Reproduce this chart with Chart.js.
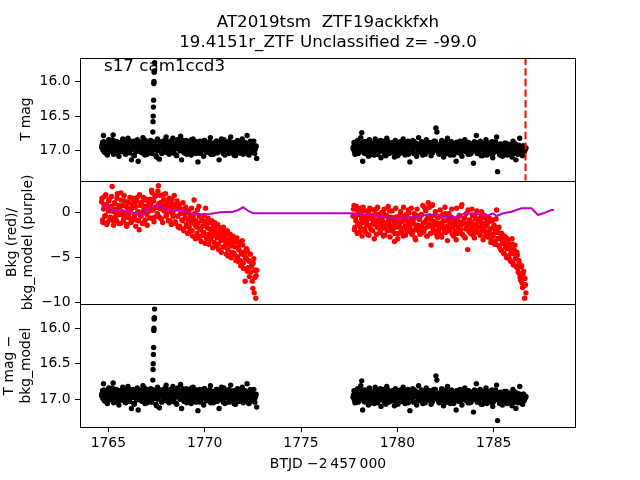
<!DOCTYPE html>
<html>
<head>
<meta charset="utf-8">
<title>AT2019tsm ZTF19ackkfxh</title>
<script src="https://cdn.jsdelivr.net/npm/chart.js"></script>
<style>
  body { margin: 0; background: #fff; }
  #wrap { position: relative; width: 640px; height: 480px; }
  #wrap canvas { position: absolute; left: 0; top: 0; }
</style>
</head>
<body>
<div id="wrap">
  <canvas id="magChart" width="640" height="480"></canvas>
  <canvas id="bkgChart" width="640" height="480"></canvas>
  <canvas id="detChart" width="640" height="480"></canvas>
</div>
<script>
// time stamps (BTJD - 2457000), orbit 1 then orbit 2
const btjd = [
  1764.65,1764.70,1764.75,1764.80,1764.85,1764.90,1764.95,1765.00,1765.05,1765.10,
  1765.15,1765.20,1765.25,1765.30,1765.35,1765.40,1765.45,1765.50,1765.55,1765.60,
  1765.65,1765.70,1765.75,1765.80,1765.85,1765.90,1765.95,1766.00,1766.05,1766.10,
  1766.15,1766.20,1766.25,1766.30,1766.35,1766.40,1766.45,1766.50,1766.55,1766.60,
  1766.65,1766.70,1766.75,1766.80,1766.85,1766.90,1766.95,1767.00,1767.05,1767.10,
  1767.15,1767.20,1767.25,1767.30,1767.35,1767.40,1767.45,1767.50,1767.55,1767.60,
  1767.65,1767.70,1767.75,1767.80,1767.85,1767.90,1767.95,1768.00,1768.05,1768.10,
  1768.15,1768.20,1768.25,1768.30,1768.35,1768.40,1768.45,1768.50,1768.55,1768.60,
  1768.65,1768.70,1768.75,1768.80,1768.85,1768.90,1768.95,1769.00,1769.05,1769.10,
  1769.15,1769.20,1769.25,1769.30,1769.35,1769.40,1769.45,1769.50,1769.55,1769.60,
  1769.65,1769.70,1769.75,1769.80,1769.85,1769.90,1769.95,1770.00,1770.05,1770.10,
  1770.15,1770.20,1770.25,1770.30,1770.35,1770.40,1770.45,1770.50,1770.55,1770.60,
  1770.65,1770.70,1770.75,1770.80,1770.85,1770.90,1770.95,1771.00,1771.05,1771.10,
  1771.15,1771.20,1771.25,1771.30,1771.35,1771.40,1771.45,1771.50,1771.55,1771.60,
  1771.65,1771.70,1771.75,1771.80,1771.85,1771.90,1771.95,1772.00,1772.05,1772.10,
  1772.15,1772.20,1772.25,1772.30,1772.35,1772.40,1772.45,1772.50,1772.55,1772.60,
  1772.65,1772.70,
  1777.70,1777.75,1777.80,1777.85,1777.90,1777.95,1778.00,1778.05,1778.10,1778.15,
  1778.20,1778.25,1778.30,1778.35,1778.40,1778.45,1778.50,1778.55,1778.60,1778.65,
  1778.70,1778.75,1778.80,1778.85,1778.90,1778.95,1779.00,1779.05,1779.10,1779.15,
  1779.20,1779.25,1779.30,1779.35,1779.40,1779.45,1779.50,1779.55,1779.60,1779.65,
  1779.70,1779.75,1779.80,1779.85,1779.90,1779.95,1780.00,1780.05,1780.10,1780.15,
  1780.20,1780.25,1780.30,1780.35,1780.40,1780.45,1780.50,1780.55,1780.60,1780.65,
  1780.70,1780.75,1780.80,1780.85,1780.90,1780.95,1781.00,1781.05,1781.10,1781.15,
  1781.20,1781.25,1781.30,1781.35,1781.40,1781.45,1781.50,1781.55,1781.60,1781.65,
  1781.70,1781.75,1781.80,1781.85,1781.90,1781.95,1782.00,1782.05,1782.10,1782.15,
  1782.20,1782.25,1782.30,1782.35,1782.40,1782.45,1782.50,1782.55,1782.60,1782.65,
  1782.70,1782.75,1782.80,1782.85,1782.90,1782.95,1783.00,1783.05,1783.10,1783.15,
  1783.20,1783.25,1783.30,1783.35,1783.40,1783.45,1783.50,1783.55,1783.60,1783.65,
  1783.70,1783.75,1783.80,1783.85,1783.90,1783.95,1784.00,1784.05,1784.10,1784.15,
  1784.20,1784.25,1784.30,1784.35,1784.40,1784.45,1784.50,1784.55,1784.60,1784.65,
  1784.70,1784.75,1784.80,1784.85,1784.90,1784.95,1785.00,1785.05,1785.10,1785.15,
  1785.20,1785.25,1785.30,1785.35,1785.40,1785.45,1785.50,1785.55,1785.60,1785.65,
  1785.70,1785.75,1785.80,1785.85,1785.90,1785.95,1786.00,1786.05,1786.10,1786.15,
  1786.20,1786.25,1786.30,1786.35,1786.40,1786.45,1786.50,1786.55,1786.60,1786.65
];

// T mag (the bottom "T mag - bkg_model" panel shows the same points)
const tmag = [
  16.95,16.88,16.78,17.02,16.91,16.97,17.06,16.86,16.93,17.00,
  16.90,16.84,16.77,16.99,17.04,16.92,16.87,16.96,17.08,16.89,
  16.94,17.01,16.83,16.91,16.98,17.05,16.88,16.95,16.85,17.03,
  16.92,17.13,16.97,16.86,17.07,16.90,16.99,16.84,17.15,16.94,
  16.89,17.02,16.95,16.81,16.98,17.06,16.91,16.87,17.00,16.93,
  16.96,16.85,17.04,16.92,16.88,16.99,16.94,17.09,16.83,16.97,
  17.12,16.90,16.95,17.03,16.86,16.92,17.00,16.80,16.97,16.89,
  17.05,16.93,16.87,16.98,16.82,17.01,16.95,16.90,17.07,16.84,
  16.96,16.91,16.79,17.13,16.94,16.88,17.03,16.97,16.85,16.92,
  17.00,16.87,16.95,17.06,16.90,16.83,16.98,16.93,17.04,16.89,
  17.16,16.94,16.86,17.01,16.97,16.91,17.08,16.85,16.96,16.92,
  16.88,17.02,16.95,16.81,16.99,16.93,17.05,16.90,16.97,16.86,
  17.03,16.92,17.13,16.96,16.87,17.00,16.94,16.84,17.06,16.91,
  16.98,16.89,17.04,16.93,16.80,16.97,17.01,16.88,16.95,17.07,
  16.90,16.85,16.99,17.03,16.92,16.96,16.83,17.05,16.94,16.88,
  17.00,16.78,16.93,17.06,16.89,16.97,17.02,16.91,16.86,17.04,
  16.95,17.11,
  16.97,16.88,17.05,16.92,16.99,16.85,17.02,16.94,16.81,16.74,
  17.15,16.93,16.87,17.04,16.96,16.90,17.08,16.84,16.98,17.01,
  16.89,16.95,17.06,16.83,16.99,16.92,17.03,16.87,16.96,17.10,
  16.91,16.86,17.00,16.94,17.07,16.82,16.97,17.04,16.90,16.95,
  17.02,16.88,16.93,17.09,16.85,16.98,16.91,17.05,16.96,16.87,
  17.01,16.94,16.83,16.99,17.06,16.90,16.97,16.86,17.03,17.16,
  16.92,16.98,16.85,17.04,16.95,16.89,17.08,16.93,16.81,17.00,
  16.96,16.87,17.02,16.91,16.99,17.05,16.84,16.94,17.01,16.90,
  16.97,17.07,16.88,16.93,16.86,16.98,16.67,16.73,16.95,17.03,
  16.91,17.00,16.85,16.96,17.09,16.89,16.94,17.04,16.82,16.98,
  16.93,17.06,16.87,16.99,16.91,17.02,16.95,17.15,16.88,16.97,
  17.03,16.86,16.94,17.08,16.90,16.97,16.84,17.01,16.92,16.99,
  16.88,17.05,16.95,16.91,17.00,17.18,16.87,16.96,16.78,17.04,
  16.93,16.99,16.86,17.07,16.94,16.90,17.02,16.97,16.84,17.06,
  16.98,16.91,17.04,16.88,16.95,17.10,16.93,17.01,16.87,16.80,
  17.30,16.96,17.05,16.90,16.99,17.08,16.92,16.97,17.03,16.89,
  17.06,16.94,17.00,16.91,16.98,17.09,16.86,17.04,16.95,17.13,
  16.99,17.05,16.92,16.82,17.02,16.96,17.07,16.93,17.00,16.97
];

// background flux (red points)
const bkg = [
  1.2,-0.8,0.4,1.8,-0.3,0.9,-1.1,0.2,1.5,-0.5,
  0.7,2.9,-0.9,0.1,1.0,-0.4,1.6,0.3,-1.2,0.6,
  2.2,-0.2,0.8,-0.7,1.3,0.0,-1.5,0.5,1.1,-0.6,
  0.3,-1.0,0.9,1.4,-0.3,0.6,-0.8,1.7,0.1,-1.9,
  0.8,-0.4,1.2,0.2,-1.1,0.7,1.5,-0.2,0.4,1.0,
  -0.6,0.9,2.5,0.3,1.3,-0.5,0.6,1.9,-0.1,3.0,
  0.5,1.1,-0.7,0.8,2.0,0.2,1.4,-0.4,0.9,0.4,
  1.2,-0.9,0.6,1.5,-0.2,0.3,0.9,-1.2,0.5,-0.4,
  0.7,-1.5,-0.1,0.4,-0.9,-1.8,0.2,-0.6,-1.3,0.1,
  -0.8,-1.6,-0.3,-1.1,-2.0,-0.5,1.4,-1.4,-0.9,-2.3,
  -1.2,0.7,-1.8,-2.6,-0.9,-1.5,-2.2,-1.0,0.5,-2.8,
  -1.7,-2.4,-1.1,-3.0,-1.9,-2.6,-1.4,-3.3,-2.1,-1.6,
  -2.8,-3.5,-2.2,-1.7,-3.1,-2.5,-3.8,-2.0,-2.9,-3.4,
  -2.4,-4.1,-3.0,-3.6,-2.6,-4.4,-3.3,-2.9,-4.7,-3.8,
  -3.2,-4.9,-4.0,-3.5,-5.3,-4.4,-3.1,-5.6,-4.7,-7.6,
  -5.0,-4.2,-6.1,-5.4,-4.6,-6.6,-5.8,-8.4,-5.1,-7.2,
  -9.5,-6.4,
  -0.4,0.8,-1.6,-0.9,0.3,-1.3,-0.2,-2.1,0.5,-0.7,
  -1.1,0.2,-1.8,-0.5,-0.9,-2.4,0.1,-1.4,-0.6,-1.9,
  -0.3,-1.2,-2.9,-0.8,0.4,-1.6,-1.0,-0.2,-2.2,-1.3,
  -0.6,-1.7,-0.1,-2.5,-1.1,-0.4,-1.9,-0.8,0.2,-1.5,
  -2.0,-0.7,-1.3,-3.2,-0.5,-1.6,-0.9,-2.3,-1.2,-0.3,
  -1.8,-1.0,-2.6,-0.4,-1.5,-0.8,-2.1,-1.3,0.0,-1.7,
  -0.9,-2.4,-1.2,-0.6,-1.9,-3.0,-0.3,-1.4,-2.0,-0.7,
  -1.5,-0.2,-2.2,-1.1,0.6,-1.7,-0.8,-2.6,1.1,-1.3,
  -0.5,-3.6,0.8,-1.8,-1.0,-0.3,-2.3,-1.4,-0.6,-2.0,
  -1.2,-0.4,-2.7,-1.6,-0.9,-2.1,-0.1,-1.5,-3.1,-0.8,
  -1.9,-1.1,-0.5,-2.4,-1.3,-0.7,-2.0,-3.0,-0.9,-1.6,
  -0.4,-2.2,-1.4,0.9,-1.0,-2.6,-0.6,-1.8,-1.2,-4.1,
  -1.5,-0.8,-2.3,-1.1,-0.3,-1.9,-2.8,-0.7,-1.4,-2.1,
  -0.9,-1.6,-2.5,-0.5,-1.2,-3.0,-1.8,-0.6,-2.2,-1.4,
  -2.7,-1.0,-1.9,-3.3,-0.8,-2.4,-1.6,-3.5,-2.0,0.3,
  -2.9,-1.7,-3.8,-2.3,-4.2,-3.1,-2.6,-4.6,-3.5,-2.8,
  -4.0,-3.3,-5.1,-3.7,-4.5,-2.9,-5.6,-4.1,-3.6,-5.0,
  -4.4,-6.2,-5.3,-6.8,-7.5,-5.9,-8.3,-6.5,-9.5,-8.0
];

// the in-between cadences
const btjd2 = [
  1764.67,1764.72,1764.77,1764.82,1764.87,1764.92,1764.97,1765.02,1765.07,1765.12,
  1765.17,1765.22,1765.27,1765.32,1765.37,1765.42,1765.47,1765.52,1765.57,1765.62,
  1765.67,1765.72,1765.77,1765.82,1765.87,1765.92,1765.97,1766.02,1766.07,1766.12,
  1766.17,1766.22,1766.27,1766.32,1766.37,1766.42,1766.47,1766.52,1766.57,1766.62,
  1766.67,1766.72,1766.77,1766.82,1766.87,1766.92,1766.97,1767.02,1767.07,1767.12,
  1767.17,1767.22,1767.27,1767.32,1767.37,1767.42,1767.47,1767.52,1767.57,1767.62,
  1767.67,1767.72,1767.77,1767.82,1767.87,1767.92,1767.97,1768.02,1768.07,1768.12,
  1768.17,1768.22,1768.27,1768.32,1768.37,1768.42,1768.47,1768.52,1768.57,1768.62,
  1768.67,1768.72,1768.77,1768.82,1768.87,1768.92,1768.97,1769.02,1769.07,1769.12,
  1769.17,1769.22,1769.27,1769.32,1769.37,1769.42,1769.47,1769.52,1769.57,1769.62,
  1769.67,1769.72,1769.77,1769.82,1769.87,1769.92,1769.97,1770.02,1770.07,1770.12,
  1770.17,1770.22,1770.27,1770.32,1770.37,1770.42,1770.47,1770.52,1770.57,1770.62,
  1770.67,1770.72,1770.77,1770.82,1770.87,1770.92,1770.97,1771.02,1771.07,1771.12,
  1771.17,1771.22,1771.27,1771.32,1771.37,1771.42,1771.47,1771.52,1771.57,1771.62,
  1771.67,1771.72,1771.77,1771.82,1771.87,1771.92,1771.97,1772.02,1772.07,1772.12,
  1772.17,1772.22,1772.27,1772.32,1772.37,1772.42,1772.47,1772.52,1772.57,1772.62,
  1772.67,
  1777.72,1777.77,1777.82,1777.87,1777.92,1777.97,1778.02,1778.07,1778.12,1778.17,
  1778.22,1778.27,1778.32,1778.37,1778.42,1778.47,1778.52,1778.57,1778.62,1778.67,
  1778.72,1778.77,1778.82,1778.87,1778.92,1778.97,1779.02,1779.07,1779.12,1779.17,
  1779.22,1779.27,1779.32,1779.37,1779.42,1779.47,1779.52,1779.57,1779.62,1779.67,
  1779.72,1779.77,1779.82,1779.87,1779.92,1779.97,1780.02,1780.07,1780.12,1780.17,
  1780.22,1780.27,1780.32,1780.37,1780.42,1780.47,1780.52,1780.57,1780.62,1780.67,
  1780.72,1780.77,1780.82,1780.87,1780.92,1780.97,1781.02,1781.07,1781.12,1781.17,
  1781.22,1781.27,1781.32,1781.37,1781.42,1781.47,1781.52,1781.57,1781.62,1781.67,
  1781.72,1781.77,1781.82,1781.87,1781.92,1781.97,1782.02,1782.07,1782.12,1782.17,
  1782.22,1782.27,1782.32,1782.37,1782.42,1782.47,1782.52,1782.57,1782.62,1782.67,
  1782.72,1782.77,1782.82,1782.87,1782.92,1782.97,1783.02,1783.07,1783.12,1783.17,
  1783.22,1783.27,1783.32,1783.37,1783.42,1783.47,1783.52,1783.57,1783.62,1783.67,
  1783.72,1783.77,1783.82,1783.87,1783.92,1783.97,1784.02,1784.07,1784.12,1784.17,
  1784.22,1784.27,1784.32,1784.37,1784.42,1784.47,1784.52,1784.57,1784.62,1784.67,
  1784.72,1784.77,1784.82,1784.87,1784.92,1784.97,1785.02,1785.07,1785.12,1785.17,
  1785.22,1785.27,1785.32,1785.37,1785.42,1785.47,1785.52,1785.57,1785.62,1785.67,
  1785.72,1785.77,1785.82,1785.87,1785.92,1785.97,1786.02,1786.07,1786.12,1786.17,
  1786.22,1786.27,1786.32,1786.37,1786.42,1786.47,1786.52,1786.57,1786.62,1786.67
];

const tmag2 = [
  16.92,16.99,16.87,16.95,17.03,16.90,16.96,16.84,17.01,16.93,
  16.97,16.89,17.05,16.94,16.86,16.99,16.91,17.02,16.95,16.88,
  17.00,16.93,16.85,16.97,17.04,16.90,16.96,16.82,16.99,16.92,
  16.87,16.98,16.94,17.06,16.89,16.95,17.01,16.91,16.86,16.98,
  16.94,16.88,17.03,16.96,16.90,16.85,16.99,17.05,16.92,16.97,
  16.90,17.01,16.93,16.87,16.97,16.89,17.07,16.94,17.00,16.86,
  16.95,16.91,17.04,16.88,16.98,16.93,16.84,17.02,16.96,16.90,
  16.99,16.86,16.94,17.03,16.92,16.89,16.97,17.06,16.91,16.95,
  16.88,17.00,16.93,16.96,16.85,17.02,16.90,16.94,17.05,16.98,
  16.93,16.97,16.89,16.84,17.01,16.95,16.91,17.03,16.87,16.99,
  16.96,16.90,17.04,16.93,16.88,16.98,16.85,16.95,17.02,16.91,
  16.99,16.94,16.87,17.05,16.92,16.96,16.89,17.00,16.93,16.86,
  16.95,17.01,16.90,16.97,16.83,16.94,17.04,16.91,16.98,16.88,
  16.92,16.96,16.86,17.02,16.95,16.90,16.98,17.06,16.89,16.94,
  17.00,16.93,16.87,16.97,17.03,16.91,16.95,16.88,17.01,16.96,
  16.90,16.97,17.05,16.92,16.86,16.99,16.94,17.02,16.95,16.98,
  16.93,
  16.94,17.01,16.90,16.97,16.86,17.04,16.95,16.92,16.99,16.88,
  16.96,17.03,16.91,16.98,16.87,17.00,16.93,17.06,16.95,16.89,
  17.02,16.94,16.99,16.88,16.96,17.05,16.91,16.97,16.85,17.00,
  16.93,16.98,17.04,16.90,16.95,17.01,16.87,16.96,17.03,16.92,
  16.99,16.89,16.95,17.02,16.93,16.97,17.07,16.90,16.98,16.94,
  16.96,17.03,16.88,16.95,17.00,16.92,16.98,17.05,16.91,16.97,
  17.01,16.93,16.97,16.87,17.04,16.95,16.90,16.99,16.94,17.02,
  16.91,16.98,17.06,16.94,16.89,16.97,17.01,16.93,16.96,16.88,
  16.99,16.95,17.03,16.90,16.97,16.86,16.94,17.00,16.92,17.05,
  16.96,16.89,16.98,17.02,16.93,16.97,16.87,17.04,16.95,16.91,
  17.00,16.94,16.90,16.98,17.06,16.92,16.96,16.88,17.02,16.95,
  16.97,17.03,16.91,16.95,16.99,16.86,17.01,16.94,16.97,17.05,
  16.92,16.98,17.04,16.90,16.96,17.00,16.93,16.88,16.99,16.95,
  17.03,16.91,16.97,16.94,17.07,16.89,16.98,17.01,16.93,16.96,
  16.90,17.02,16.95,16.99,16.87,17.04,16.96,16.92,17.00,16.97,
  16.94,16.99,17.06,16.91,16.97,17.02,16.95,16.89,17.04,16.98,
  17.01,16.93,16.97,17.05,16.92,16.99,17.03,16.96,16.90,17.00,
  16.97,17.04,16.94,17.01,16.98,17.06,16.93,17.02,16.99,16.96
];

const bkg2 = [
  1.6,-1.1,0.9,-0.4,2.0,-1.3,0.6,1.3,-0.8,0.2,
  1.8,-0.6,-1.4,1.1,0.4,-0.9,2.1,-0.2,0.8,-1.2,
  1.4,0.1,-1.0,1.9,-0.5,0.7,-1.3,1.2,-0.1,1.7,
  -1.1,0.5,1.6,-0.7,0.9,-1.5,1.3,0.0,-0.9,2.0,
  -0.3,1.1,-1.2,1.7,0.4,-0.8,1.4,-1.4,0.8,0.2,
  1.5,-0.6,2.2,0.3,-1.0,1.8,0.6,-0.4,2.4,1.0,
  -0.5,1.9,0.4,-1.1,1.4,0.8,2.1,-0.2,1.2,-0.9,
  1.6,0.1,-1.3,1.0,-0.4,1.9,-1.0,0.5,1.3,-1.6,
  0.9,-1.7,0.3,-0.8,1.1,-2.0,-0.2,0.6,-1.5,-2.3,
  0.2,-2.1,-0.6,0.5,-2.6,-1.0,-0.1,-2.9,-1.6,0.3,
  -2.8,-0.4,-1.9,-3.2,-0.8,-2.5,-0.3,-3.4,-1.4,-2.9,
  -0.6,-3.5,-1.8,-2.9,-0.9,-3.9,-2.2,-1.1,-3.7,-2.6,
  -1.3,-4.1,-2.7,-1.8,-4.4,-3.0,-1.6,-3.8,-2.3,-4.6,
  -2.0,-4.8,-3.4,-2.4,-5.0,-3.7,-2.6,-4.5,-3.1,-5.3,
  -2.8,-5.4,-4.1,-3.3,-5.9,-4.6,-3.6,-6.2,-4.4,-5.1,
  -4.0,-6.5,-5.3,-7.1,-4.6,-6.0,-7.6,-5.6,-8.9,-6.4,
  -7.0,
  0.4,-1.9,-0.5,0.7,-2.3,-1.2,0.1,-1.6,-0.3,-2.6,
  0.6,-1.0,-2.1,0.2,-1.4,-0.4,-2.5,0.5,-1.8,-0.7,
  -2.0,0.3,-1.3,-0.2,-2.4,0.6,-1.7,-0.6,-2.2,0.0,
  -0.9,-2.6,0.4,-1.5,-0.3,-2.0,0.7,-1.2,-2.7,-0.5,
  0.2,-1.8,-0.8,-2.3,0.5,-1.1,-2.9,-0.4,-1.6,0.1,
  -2.1,-0.6,0.6,-1.7,-2.5,-0.2,-1.3,0.3,-2.0,-0.9,
  0.5,-2.2,-1.0,-0.1,-2.8,-1.4,0.4,-1.9,-0.7,-2.4,
  -0.3,-1.6,0.8,-2.1,-1.1,0.2,-2.6,-0.6,-1.5,0.6,
  -2.3,-0.8,0.9,-1.4,-2.0,0.1,-1.2,-2.7,-0.4,-1.7,
  0.3,-2.5,-1.1,-0.2,-1.8,0.6,-2.2,-0.9,-1.5,-0.1,
  -2.0,-0.5,0.4,-1.6,-2.6,-0.8,-1.3,0.5,-2.3,-1.0,
  -0.3,-1.9,0.7,-2.4,-1.2,-0.6,-2.8,-0.1,-1.5,0.3,
  -2.1,-0.9,-1.7,0.4,-2.5,-1.3,-0.4,-2.2,0.2,-1.6,
  -0.7,-2.3,-1.0,0.1,-2.0,-1.5,-0.3,-2.6,-1.1,-0.5,
  -2.4,-0.6,-1.8,-3.0,-0.9,-2.6,-1.4,-3.2,-0.7,-2.2,
  -3.6,-1.6,-2.9,-4.1,-2.3,-3.4,-4.5,-2.6,-3.9,-5.0,
  -3.0,-4.8,-3.9,-5.4,-4.2,-3.5,-5.8,-4.6,-5.1,-6.0,
  -4.7,-6.6,-5.6,-7.2,-6.0,-7.8,-6.8,-8.1,-7.3,-8.9
];

// the flare near 1767.35
const flareBtjd = [1767.31,1767.32,1767.33,1767.34,1767.35,1767.36,1767.37,1767.38,1767.39,1767.40];
const flareMag = [16.73,16.58,16.50,16.37,16.27,16.03,16.00,15.87,15.85,15.73];

// background model (purple line)
const modelBtjd = [1764.66,1764.92,1765.26,1765.78,1766.30,1766.82,1766.99,1767.33,1767.68,1768.03,
  1768.37,1768.89,1769.24,1769.76,1770.27,1770.79,1771.48,1771.74,1772.00,1772.26,1772.52,
  1774.00,1775.50,1777.71,1777.97,1778.57,1779.09,1779.60,1780.13,1780.48,1781.00,1781.69,
  1782.38,1783.07,1783.40,1783.93,1784.63,1784.97,1785.15,1785.49,1785.92,1786.44,1786.96,
  1787.30,1787.56,1788.00,1788.12];
const bkgModel = [0.49,0.67,0.30,0.22,0.00,-0.18,0.38,0.67,0.74,0.30,
  0.22,0.30,-0.07,-0.18,-0.14,0.04,0.11,0.30,0.60,0.19,-0.07,
  -0.07,-0.07,-0.07,-0.18,-0.25,-0.45,-0.55,-0.60,-0.50,-0.44,-0.18,
  -0.44,-0.51,-0.18,-0.07,-0.37,-0.07,-0.37,-0.07,0.11,0.49,0.49,
  -0.26,-0.07,0.30,0.30];

const eventBtjd = 1786.65;
const xTicks = [1765, 1770, 1775, 1780, 1785];
const magTicks = [16.0, 16.5, 17.0];
const bkgTicks = [0, -5, -10];
const xRange = [1763.53, 1789.27];
const magRange = [15.657, 17.432];
const bkgRange = [-10.14, 3.54];
const detRange = [15.658, 17.393];

const titleLines = ['AT2019tsm  ZTF19ackkfxh', '19.4151r_ZTF Unclassified z= -99.0'];
const sectorText = 's17 cam1ccd3';

Chart.defaults.font.family = "'DejaVu Sans', sans-serif";
Chart.defaults.font.size = 13.9;
Chart.defaults.color = '#000';

const pts = (xs, ys) => xs.map((x, i) => ({x: x, y: ys[i]}));
const minus = v => (v < 0 ? '\u2212' + Math.abs(v) : String(v));

// box round each panel, like matplotlib spines
const frame = {
    id: 'frame',
    afterDraw(chart) {
        const {ctx, chartArea: a} = chart;
        const l = Math.round(a.left) + 0.5, t = Math.round(a.top) + 0.5;
        const r = Math.round(a.right) - 0.5, b = Math.round(a.bottom) + 0.5;
        ctx.save();
        ctx.strokeStyle = '#000';
        ctx.lineWidth = 1;
        ctx.strokeRect(l, t, r - l, b - t);
        ctx.restore();
    }
};

const sectorLabel = {
    id: 'sectorLabel',
    afterDraw(chart) {
        const {ctx, chartArea} = chart;
        ctx.save();
        ctx.font = "16.7px 'DejaVu Sans'";
        ctx.fillStyle = '#000';
        ctx.textBaseline = 'alphabetic';
        ctx.fillText(sectorText, chartArea.left + 24, chartArea.top + 13.4);
        ctx.restore();
    }
};

function xAxis(show) {
    return {
        type: 'linear', min: xRange[0], max: xRange[1], display: show,
        afterBuildTicks: s => { s.ticks = xTicks.map(v => ({value: v})); },
        afterFit: s => { if (show) s.height = 52.8; },
        ticks: {padding: 3, maxRotation: 0, autoSkip: false, callback: v => String(v)},
        grid: {drawOnChartArea: false, tickLength: 5, tickColor: '#000'},
        border: {display: false},
        title: {display: show, text: 'BTJD \u22122\u2009457\u2009000', padding: {top: 0, bottom: 7}}
    };
}

function yAxis(range, ticks, fmt, reverse, title, lh, padTop) {
    return {
        type: 'linear', min: range[0], max: range[1], reverse: reverse,
        afterBuildTicks: s => { s.ticks = ticks.map(v => ({value: v})); },
        afterFit: s => { s.width = 80; },
        ticks: {padding: 4.5, autoSkip: false, callback: fmt},
        grid: {drawOnChartArea: false, tickLength: 5, tickColor: '#000'},
        border: {display: false},
        title: {display: true, text: title, padding: {top: padTop, bottom: 0}, font: {size: 13.9, lineHeight: lh}}
    };
}

function makeChart(id, datasets, scales, padding, title, extra) {
    return new Chart(document.getElementById(id), {
        type: 'scatter',
        data: {datasets: datasets},
        options: {
            responsive: false,
            animation: false,
            layout: {padding: padding},
            scales: scales,
            plugins: {
                legend: {display: false},
                tooltip: {enabled: false},
                title: title
            }
        },
        plugins: [frame].concat(extra)
    });
}

const dot = color => ({pointRadius: 2.7, pointBorderWidth: 0, pointBackgroundColor: color, borderWidth: 0});
const magPoints = pts(btjd, tmag).concat(pts(btjd2, tmag2));
const bkgPoints = pts(btjd, bkg).concat(pts(btjd2, bkg2));

// top: T mag
makeChart('magChart', [
    {data: [{x: eventBtjd, y: magRange[0]}, {x: eventBtjd, y: magRange[1]}], showLine: true,
     borderColor: '#ff0000', borderWidth: 2, borderDash: [7.4, 3.2], pointRadius: 0},
    Object.assign({data: pts(flareBtjd, flareMag)}, dot('#000')),
    Object.assign({data: magPoints}, dot('#000'))
], {
    x: xAxis(false),
    y: yAxis(magRange, magTicks, v => v.toFixed(1), true, 'T mag', 1.2, 18.2)
}, {left: 0, right: 64, top: 0, bottom: 299.2}, {
    display: true, text: titleLines, fullSize: false, color: '#000',
    font: {size: 16.7, weight: 'normal', lineHeight: 1.2},
    padding: {top: 12.5, bottom: 5}
}, [sectorLabel]);

// middle: background and its model
makeChart('bkgChart', [
    {data: pts(modelBtjd, bkgModel), showLine: true, borderColor: '#bf00bf', borderWidth: 2, pointRadius: 0},
    Object.assign({data: bkgPoints}, dot('#ff0000'))
], {
    x: xAxis(false),
    y: yAxis(bkgRange, bkgTicks, minus, false, ['Bkg (red)/', 'bkg_model (purple)'], 1.12, 4.7)
}, {left: 0, right: 64, top: 180.8, bottom: 176}, {display: false}, []);

// bottom: T mag - bkg_model
makeChart('detChart', [
    Object.assign({data: pts(flareBtjd, flareMag)}, dot('#000')),
    Object.assign({data: magPoints}, dot('#000'))
], {
    x: xAxis(true),
    y: yAxis(detRange, magTicks, v => v.toFixed(1), true, ['T mag \u2212', 'bkg_model'], 1.19, 1.25)
}, {left: 0, right: 64, top: 304, bottom: 0}, {display: false}, []);
</script>
</body>
</html>
